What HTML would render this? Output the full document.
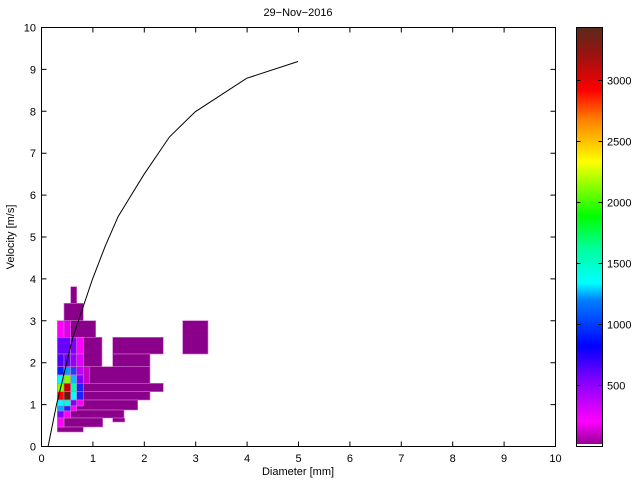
<!DOCTYPE html>
<html><head><meta charset="utf-8"><style>
html,body{margin:0;padding:0;background:#fff;}
svg{display:block;font-family:"Liberation Sans",sans-serif;font-size:11px;}
</style></head><body>
<svg width="640" height="480" viewBox="0 0 640 480" xmlns="http://www.w3.org/2000/svg">
<defs>
<linearGradient id="cb" x1="0" y1="1" x2="0" y2="0">
<stop offset="0" stop-color="#8b008b"/>
<stop offset="0.06" stop-color="#ff00ff"/>
<stop offset="0.16" stop-color="#8000ff"/>
<stop offset="0.24" stop-color="#0000ff"/>
<stop offset="0.35" stop-color="#0080ff"/>
<stop offset="0.39" stop-color="#00ffff"/>
<stop offset="0.47" stop-color="#00ffa0"/>
<stop offset="0.55" stop-color="#00ff00"/>
<stop offset="0.68" stop-color="#ffff00"/>
<stop offset="0.78" stop-color="#ff8000"/>
<stop offset="0.85" stop-color="#ff0000"/>
<stop offset="0.93" stop-color="#a01010"/>
<stop offset="1" stop-color="#5a2a1a"/>
</linearGradient>
</defs>
<rect x="0" y="0" width="640" height="480" fill="#fff"/>
<g stroke="#d070d0" stroke-width="0.6">
<!-- purple base areas -->
<g fill="#8b008b">
<rect x="70.7" y="286.7" width="6" height="16.6"/>
<rect x="64" y="303.3" width="19.3" height="17.4"/>
<rect x="70.7" y="320.7" width="25" height="16.6"/>
<rect x="83.3" y="337.3" width="18.7" height="29.4"/>
<rect x="112.7" y="337.3" width="50.6" height="16.7"/>
<rect x="112.7" y="354" width="37.3" height="12.7"/>
<rect x="182.7" y="320.7" width="25.3" height="33.3"/>
<rect x="83.3" y="366.7" width="66.7" height="16.6"/>
<rect x="83.3" y="383.3" width="80" height="8.4"/>
<rect x="83.3" y="391.7" width="66.7" height="8.3"/>
<rect x="76.7" y="400" width="61" height="10"/>
<rect x="70.7" y="410" width="53.3" height="8"/>
<rect x="112.7" y="418" width="12" height="4"/>
<rect x="64" y="418" width="38.7" height="9"/>
<rect x="57.3" y="427" width="26" height="5"/>
</g>
<!-- colored cells -->
<rect x="57.3" y="320.7" width="6.7" height="16.6" fill="#ff00ff"/>
<rect x="64" y="320.7" width="6.7" height="16.6" fill="#e000e8"/>
<rect x="57.3" y="337.3" width="13.4" height="16.7" fill="#6a00ff"/>
<rect x="70.7" y="337.3" width="6" height="16.7" fill="#8000ff"/>
<rect x="76.7" y="337.3" width="6.6" height="16.7" fill="#ff00ff"/>
<rect x="57.3" y="354" width="6.7" height="12.7" fill="#5000ff"/>
<rect x="64" y="354" width="6.7" height="12.7" fill="#6000ff"/>
<rect x="70.7" y="354" width="6" height="12.7" fill="#9000ff"/>
<rect x="76.7" y="354" width="6.6" height="12.7" fill="#e000ff"/>
<rect x="57.3" y="366.7" width="6.7" height="8.3" fill="#0020ff"/>
<rect x="64" y="366.7" width="6.7" height="8.3" fill="#00a0ff"/>
<rect x="70.7" y="366.7" width="6" height="8.3" fill="#2040ff"/>
<rect x="76.7" y="366.7" width="6.6" height="8.3" fill="#c000ff"/>
<rect x="83.3" y="366.7" width="6" height="16.6" fill="#c800c8"/>
<rect x="57.3" y="375" width="6.7" height="8.3" fill="#00ffff"/>
<rect x="64" y="375" width="6.7" height="8.3" fill="#80ff00"/>
<rect x="70.7" y="375" width="6" height="8.3" fill="#00c0ff"/>
<rect x="76.7" y="375" width="6.6" height="8.3" fill="#8000ff"/>
<rect x="57.3" y="383.3" width="6.7" height="8.4" fill="#80ff00"/>
<rect x="64" y="383.3" width="6.7" height="8.4" fill="#c00000"/>
<rect x="70.7" y="383.3" width="6" height="8.4" fill="#00ffaa"/>
<rect x="76.7" y="383.3" width="6.6" height="8.4" fill="#2020ff"/>
<rect x="57.3" y="391.7" width="6.7" height="8.3" fill="#ff0000"/>
<rect x="64" y="391.7" width="6.7" height="8.3" fill="#6a1a00"/>
<rect x="70.7" y="391.7" width="6" height="8.3" fill="#00ffff"/>
<rect x="76.7" y="391.7" width="6.6" height="8.3" fill="#2020ff"/>
<rect x="57.3" y="400" width="6.7" height="6" fill="#00ffff"/>
<rect x="64" y="400" width="6.7" height="6" fill="#00ffd0"/>
<rect x="70.7" y="400" width="6" height="6" fill="#8000ff"/>
<rect x="76.7" y="400" width="6.6" height="6" fill="#ff00ff"/>
<rect x="57.3" y="406" width="6.7" height="5" fill="#00aaff"/>
<rect x="64" y="406" width="6.7" height="5" fill="#2020ff"/>
<rect x="70.7" y="406" width="6" height="5" fill="#ff00ff"/>
<rect x="57.3" y="411" width="6.7" height="7" fill="#8000ff"/>
<rect x="64" y="411" width="6.7" height="7" fill="#ff00ff"/>
<rect x="57.3" y="418" width="6.7" height="9" fill="#ff00ff"/>
</g>
<!-- axes -->
<rect x="41.5" y="27.5" width="514" height="419" fill="none" stroke="#000" stroke-width="1"/>
<g stroke="#000" stroke-width="1">
<path d="M41.5 446.5v-5M92.9 446.5v-5M144.3 446.5v-5M195.7 446.5v-5M247.1 446.5v-5M298.5 446.5v-5M349.9 446.5v-5M401.3 446.5v-5M452.7 446.5v-5M504.1 446.5v-5M555.5 446.5v-5"/>
<path d="M92.9 27.5v5M144.3 27.5v5M195.7 27.5v5M247.1 27.5v5M298.5 27.5v5M349.9 27.5v5M401.3 27.5v5M452.7 27.5v5M504.1 27.5v5"/>
<path d="M41.5 404.6h5M41.5 362.7h5M41.5 320.8h5M41.5 278.9h5M41.5 237h5M41.5 195.1h5M41.5 153.2h5M41.5 111.3h5M41.5 69.4h5"/>
<path d="M555.5 404.6h-5M555.5 362.7h-5M555.5 320.8h-5M555.5 278.9h-5M555.5 237h-5M555.5 195.1h-5M555.5 153.2h-5M555.5 111.3h-5M555.5 69.4h-5"/>
</g>
<polyline fill="none" stroke="#000" stroke-width="1" points="48,447 56.4,405.1 72.9,337.2 92.4,279.4 105.3,245.9 118.1,216.6 143.8,174.7 169.5,136.9 195.2,111.8 246.6,78.3 298,61.5"/>
<g text-anchor="middle" fill="#000">
<text x="41.5" y="462">0</text><text x="92.9" y="462">1</text><text x="144.3" y="462">2</text><text x="195.7" y="462">3</text><text x="247.1" y="462">4</text><text x="298.5" y="462">5</text><text x="349.9" y="462">6</text><text x="401.3" y="462">7</text><text x="452.7" y="462">8</text><text x="504.1" y="462">9</text><text x="555.5" y="462">10</text>
<text x="298" y="475">Diameter [mm]</text>
<text x="298" y="16">29−Nov−2016</text>
</g>
<g text-anchor="end" fill="#000">
<text x="36" y="450.5">0</text><text x="36" y="408.6">1</text><text x="36" y="366.7">2</text><text x="36" y="324.8">3</text><text x="36" y="282.9">4</text><text x="36" y="241">5</text><text x="36" y="199.1">6</text><text x="36" y="157.2">7</text><text x="36" y="115.3">8</text><text x="36" y="73.4">9</text><text x="36" y="31.5">10</text>
</g>
<text x="14" y="237" text-anchor="middle" transform="rotate(-90 14 237)">Velocity [m/s]</text>
<!-- colorbar -->
<rect x="576.5" y="27.5" width="26" height="419" fill="url(#cb)" stroke="#000" stroke-width="1"/>
<rect x="577" y="444" width="25" height="2" fill="#fff"/>
<g stroke="#000" stroke-width="1">
<path d="M576.5 385.5h4M602.5 385.5h-4M576.5 324.5h4M602.5 324.5h-4M576.5 263.5h4M602.5 263.5h-4M576.5 202.5h4M602.5 202.5h-4M576.5 141.5h4M602.5 141.5h-4M576.5 80.5h4M602.5 80.5h-4"/>
</g>
<g fill="#000">
<text x="607" y="389.5">500</text><text x="607" y="328.5">1000</text><text x="607" y="267.5">1500</text><text x="607" y="206.5">2000</text><text x="607" y="145.5">2500</text><text x="607" y="84.5">3000</text>
</g>
</svg>
</body></html>
